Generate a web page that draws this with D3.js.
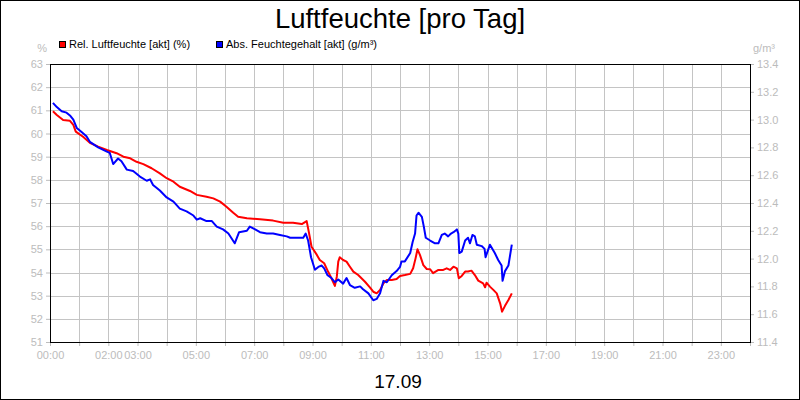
<!DOCTYPE html>
<html>
<head>
<meta charset="utf-8">
<script src="https://cdn.jsdelivr.net/npm/d3@7"></script>
<style>
  html, body { margin: 0; padding: 0; background: #fff; }
  svg { display: block; font-family: Arial, "Liberation Sans", sans-serif; }
</style>
</head>
<body>
<svg id="chart" width="800" height="400"></svg>
<script>
// ---- data ----
const title = "Luftfeuchte [pro Tag]";
const dateLabel = "17.09";
const seriesNames = ["Rel. Luftfeuchte [akt] (%)", "Abs. Feuchtegehalt [akt] (g/m³)"];
const leftUnit = "%";
const rightUnit = "g/m³";
const leftTicks = [51, 52, 53, 54, 55, 56, 57, 58, 59, 60, 61, 62, 63];
const rightTicks = [11.4, 11.6, 11.8, 12.0, 12.2, 12.4, 12.6, 12.8, 13.0, 13.2, 13.4];
const hourTicks = d3.range(0, 25);
const timeLabels = ["00:00", "02:00", "03:00", "05:00", "07:00", "09:00", "11:00", "13:00", "15:00", "17:00", "19:00", "21:00", "23:00"];

const relTimes = ["00:06","00:14","00:27","00:41","00:48","00:53","01:08","01:22","01:39","01:57","02:17","02:31","02:45","02:58","03:12","03:29","03:46","04:00","04:14","04:27","04:48","05:02","05:22","05:36","05:50","06:03","06:17","06:27","06:45","07:12","07:39","08:00","08:20","08:38","08:48","08:53","08:58","09:09","09:15","09:24","09:32","09:39","09:46","09:50","09:53","09:56","10:03","10:10","10:17","10:24","10:34","10:48","10:58","11:05","11:12","11:19","11:26","11:33","11:43","11:53","12:00","12:10","12:21","12:27","12:32","12:36","12:41","12:48","12:55","13:02","13:08","13:19","13:29","13:36","13:43","13:50","13:57","14:01","14:07","14:14","14:20","14:27","14:34","14:41","14:51","14:55","14:58","15:05","15:12","15:19","15:26","15:30","15:36","15:43","15:50"];
const relValues = [60.96,60.80,60.58,60.55,60.37,60.08,59.86,59.60,59.43,59.29,59.15,59.00,58.93,58.78,58.68,58.50,58.28,58.07,57.92,57.70,57.52,57.35,57.27,57.20,57.06,56.84,56.58,56.41,56.34,56.30,56.24,56.15,56.15,56.09,56.22,55.69,55.11,54.76,54.54,54.40,54.04,53.75,53.42,53.82,54.47,54.66,54.54,54.47,54.25,54.04,53.89,53.60,53.36,53.17,53.10,53.25,53.53,53.68,53.68,53.72,53.85,53.89,53.94,54.18,54.61,55.00,54.76,54.32,54.15,54.14,53.97,54.11,54.11,54.18,54.11,54.25,54.18,53.75,53.85,54.04,54.04,54.08,53.89,53.65,53.53,53.36,53.56,53.39,53.25,53.10,52.67,52.31,52.56,52.81,53.10];

const absTimes = ["00:06","00:14","00:24","00:34","00:41","00:48","00:55","01:05","01:15","01:22","01:39","01:57","02:03","02:10","02:20","02:27","02:38","02:51","03:05","03:19","03:26","03:32","03:46","04:00","04:14","04:27","04:41","04:55","05:02","05:09","05:22","05:33","05:43","05:56","06:07","06:20","06:29","06:45","06:51","07:02","07:12","07:26","07:39","07:53","08:07","08:14","08:24","08:34","08:41","08:46","08:51","08:57","09:05","09:12","09:19","09:24","09:31","09:39","09:46","09:53","10:03","10:10","10:17","10:27","10:38","10:44","10:55","11:05","11:12","11:19","11:26","11:33","11:43","11:53","12:00","12:03","12:10","12:21","12:26","12:31","12:34","12:38","12:45","12:49","12:53","13:02","13:12","13:19","13:26","13:32","13:39","13:45","13:50","13:57","14:00","14:02","14:07","14:14","14:20","14:24","14:29","14:34","14:38","14:48","14:54","14:56","15:02","15:05","15:15","15:22","15:29","15:31","15:36","15:43","15:50"];
const absValues = [13.12,13.09,13.06,13.05,13.03,13.00,12.94,12.91,12.88,12.84,12.80,12.77,12.76,12.68,12.72,12.70,12.64,12.63,12.59,12.56,12.57,12.53,12.49,12.44,12.41,12.36,12.34,12.31,12.28,12.29,12.27,12.27,12.23,12.21,12.18,12.11,12.19,12.20,12.23,12.21,12.19,12.18,12.18,12.17,12.16,12.15,12.15,12.15,12.15,12.18,12.13,12.01,11.92,11.94,11.95,11.93,11.88,11.86,11.83,11.85,11.82,11.86,11.81,11.79,11.80,11.78,11.75,11.70,11.71,11.75,11.84,11.83,11.88,11.91,11.94,11.98,11.98,12.04,12.12,12.18,12.31,12.33,12.30,12.23,12.15,12.13,12.11,12.11,12.17,12.18,12.16,12.18,12.19,12.21,12.18,12.04,12.05,12.13,12.15,12.11,12.17,12.16,12.10,12.09,12.07,12.01,12.07,12.10,12.04,11.99,11.95,11.84,11.91,11.95,12.10];

const colors = ["#ff0000", "#0000ff"];

// ---- layout ----
const W = 800, H = 400;
const plot = { left: 50, right: 750, top: 64, bottom: 342 };
const labelColor = "#bcbcbc";
const gridColor = "#c4c4c4";

const toHours = s => { const [h, m] = s.split(":").map(Number); return h + m / 60; };

const x = d3.scaleLinear().domain([0, 24]).range([plot.left, plot.right]);
const yL = d3.scaleLinear().domain([51, 63]).range([plot.bottom, plot.top]);
const yR = d3.scaleLinear().domain([11.4, 13.4]).range([plot.bottom, plot.top]);

const svg = d3.select("#chart");

svg.append("rect").attr("x", 0.5).attr("y", 0.5).attr("width", W - 1).attr("height", H - 1)
  .attr("fill", "#fff").attr("stroke", "#000");

// grid
const grid = svg.append("g").attr("shape-rendering", "crispEdges");
grid.selectAll("line.h").data(leftTicks).join("line")
  .attr("x1", plot.left).attr("x2", plot.right)
  .attr("y1", d => Math.round(yL(d)) + 0.5).attr("y2", d => Math.round(yL(d)) + 0.5)
  .attr("stroke", gridColor);
grid.selectAll("line.v").data(hourTicks).join("line")
  .attr("y1", plot.top).attr("y2", plot.bottom)
  .attr("x1", d => Math.round(x(d)) + 0.5).attr("x2", d => Math.round(x(d)) + 0.5)
  .attr("stroke", gridColor);

// axes
function styleAxis(g) {
  g.select(".domain").remove();
  g.selectAll(".tick line").attr("stroke", labelColor);
  g.selectAll(".tick text").attr("fill", labelColor).attr("font-size", 11)
    .attr("font-family", 'Arial, "Liberation Sans", sans-serif');
}

svg.append("g").attr("transform", `translate(${plot.left},0)`)
  .call(d3.axisLeft(yL).tickValues(leftTicks).tickSize(4).tickPadding(3).tickFormat(d3.format("d")))
  .call(styleAxis);

svg.append("g").attr("transform", `translate(${plot.right},0)`)
  .call(d3.axisRight(yR).tickValues(rightTicks).tickSize(4).tickPadding(3).tickFormat(d3.format(".1f")))
  .call(styleAxis);

const labelSet = new Set(timeLabels);
const fmtHour = h => String(h % 24).padStart(2, "0") + ":00";
svg.append("g").attr("transform", `translate(0,${plot.bottom})`)
  .call(d3.axisBottom(x).tickValues(hourTicks).tickSize(4).tickPadding(5)
    .tickFormat(h => labelSet.has(fmtHour(h)) && h < 24 ? fmtHour(h) : ""))
  .call(styleAxis);

// lines
const relData = relTimes.map((t, i) => [toHours(t), relValues[i]]);
const absData = absTimes.map((t, i) => [toHours(t), absValues[i]]);

svg.append("path").datum(relData)
  .attr("fill", "none").attr("stroke", colors[0]).attr("stroke-width", 2).attr("stroke-linejoin", "round")
  .attr("d", d3.line().x(d => x(d[0])).y(d => yL(d[1])));
svg.append("path").datum(absData)
  .attr("fill", "none").attr("stroke", colors[1]).attr("stroke-width", 2).attr("stroke-linejoin", "round")
  .attr("d", d3.line().x(d => x(d[0])).y(d => yR(d[1])));

// frame
svg.append("rect").attr("x", plot.left + 0.5).attr("y", plot.top + 0.5)
  .attr("width", plot.right - plot.left).attr("height", plot.bottom - plot.top)
  .attr("fill", "none").attr("stroke", "#000").attr("shape-rendering", "crispEdges");

// title & date
svg.append("text").attr("x", 400).attr("y", 28).attr("text-anchor", "middle")
  .attr("font-size", 27.5).attr("fill", "#000").text(title);
svg.append("text").attr("x", 398).attr("y", 388).attr("text-anchor", "middle")
  .attr("font-size", 19).attr("fill", "#000").text(dateLabel);

// units
svg.append("text").attr("x", 47).attr("y", 52).attr("text-anchor", "end")
  .attr("font-size", 11).attr("fill", labelColor).text(leftUnit);
svg.append("text").attr("x", 753).attr("y", 52)
  .attr("font-size", 11).attr("fill", labelColor).text(rightUnit);

// legend
const legendX = [59, 216];
const legend = svg.append("g");
seriesNames.forEach((name, i) => {
  legend.append("rect").attr("x", legendX[i] + 0.5).attr("y", 41.5).attr("width", 6).attr("height", 6)
    .attr("fill", colors[i]).attr("stroke", "#000").attr("stroke-width", 1);
  legend.append("text").attr("x", legendX[i] + 10).attr("y", 48)
    .attr("font-size", 11).attr("fill", "#000").text(name);
});
</script>
</body>
</html>
